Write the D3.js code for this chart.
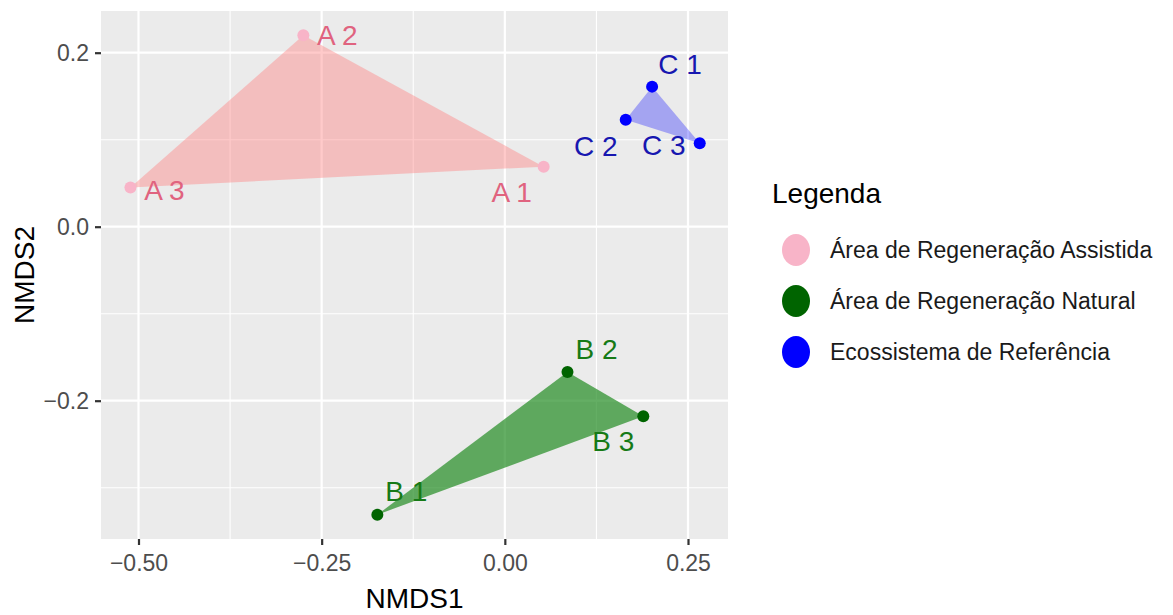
<!DOCTYPE html>
<html>
<head>
<meta charset="utf-8">
<script src="https://cdn.jsdelivr.net/npm/d3@7"></script>
<style>
  html, body { margin: 0; padding: 0; background: #fff; }
  svg text { font-family: "Liberation Sans", Arial, sans-serif; }
</style>
</head>
<body>
<svg id="chart" width="1173" height="615"></svg>
<script>
// ---- data ----
const groups = ["Área de Regeneração Assistida", "Área de Regeneração Natural", "Ecossistema de Referência"];
const sampleNames = ["A 1", "A 2", "A 3", "B 1", "B 2", "B 3", "C 1", "C 2", "C 3"];
const sampleGroup = [0, 0, 0, 1, 1, 1, 2, 2, 2];
const nmds1 = [0.053, -0.275, -0.511, -0.174, 0.0855, 0.189, 0.201, 0.165, 0.266];
const nmds2 = [0.069, 0.220, 0.045, -0.331, -0.167, -0.218, 0.161, 0.123, 0.096];
const xTicks = [-0.50, -0.25, 0.00, 0.25];
const yTicks = [-0.2, 0.0, 0.2];
const xMinor = [-0.375, -0.125, 0.125];
const yMinor = [-0.3, -0.1, 0.1];

// ---- styles ----
const pointColor = ["#F8B4C8", "#006400", "#0000FF"];
const labelColor = ["#E0637F", "#167A16", "#1717B0"];
const hullFill = ["#FF8080", "#228B22", "#0000FF"];
const hullOpacity = [0.42, 0.7, 0.3];
// label offsets in pixels (dx, dy) per sample
const labelOffset = [[-32, 26], [34, 0], [34, 3], [29, -23], [29, -23], [-30, 25], [28, -22], [-30, 27], [-36, 2]];

const svg = d3.select("#chart");
const P = { left: 101, right: 728, top: 11, bottom: 539 };

const x = d3.scaleLinear().domain([-0.5, 0.25]).range([138.5, 688]);
const y = d3.scaleLinear().domain([-0.2, 0.2]).range([400.7, 52.7]);

// panel
svg.append("rect").attr("x", P.left).attr("y", P.top)
  .attr("width", P.right - P.left).attr("height", P.bottom - P.top)
  .attr("fill", "#EBEBEB");

const grid = svg.append("g");
xMinor.forEach(v => grid.append("line").attr("x1", x(v)).attr("x2", x(v)).attr("y1", P.top).attr("y2", P.bottom)
  .attr("stroke", "#fff").attr("stroke-width", 1.1));
yMinor.forEach(v => grid.append("line").attr("y1", y(v)).attr("y2", y(v)).attr("x1", P.left).attr("x2", P.right)
  .attr("stroke", "#fff").attr("stroke-width", 1.1));
xTicks.forEach(v => grid.append("line").attr("x1", x(v)).attr("x2", x(v)).attr("y1", P.top).attr("y2", P.bottom)
  .attr("stroke", "#fff").attr("stroke-width", 2.2));
yTicks.forEach(v => grid.append("line").attr("y1", y(v)).attr("y2", y(v)).attr("x1", P.left).attr("x2", P.right)
  .attr("stroke", "#fff").attr("stroke-width", 2.2));

// axes
const xAxis = d3.axisBottom(x).tickValues(xTicks).tickFormat(d3.format(".2f")).tickSize(6).tickPadding(10);
const gx = svg.append("g").attr("transform", `translate(0,${P.bottom})`).call(xAxis);
gx.select(".domain").remove();
gx.selectAll("line").attr("stroke", "#333").attr("stroke-width", 2.2);
gx.selectAll("text").attr("fill", "#4D4D4D").attr("font-size", 23)
  .text(d => d3.format(".2f")(d).replace("-", "\u2212"));

const yAxis = d3.axisLeft(y).tickValues(yTicks).tickFormat(d3.format(".1f")).tickSize(6).tickPadding(6);
const gy = svg.append("g").attr("transform", `translate(${P.left},0)`).call(yAxis);
gy.select(".domain").remove();
gy.selectAll("line").attr("stroke", "#333").attr("stroke-width", 2.2);
gy.selectAll("text").attr("fill", "#4D4D4D").attr("font-size", 23)
  .text(d => d3.format(".1f")(d).replace("-", "\u2212"));

// axis titles
svg.append("text").attr("x", (P.left + P.right) / 2).attr("y", 608)
  .attr("text-anchor", "middle").attr("font-size", 28).attr("fill", "#000").text("NMDS1");
svg.append("text").attr("transform", `translate(34,${(P.top + P.bottom) / 2}) rotate(-90)`)
  .attr("text-anchor", "middle").attr("font-size", 28).attr("fill", "#000").text("NMDS2");

// data rows
const rows = sampleNames.map((n, i) => ({ name: n, g: sampleGroup[i], x: nmds1[i], y: nmds2[i], i }));

// hulls
const plot = svg.append("g");
groups.forEach((g, gi) => {
  const pts = rows.filter(r => r.g === gi).map(r => [x(r.x), y(r.y)]);
  const hull = d3.polygonHull(pts);
  plot.append("path").attr("d", "M" + hull.join("L") + "Z")
    .attr("fill", hullFill[gi]).attr("fill-opacity", hullOpacity[gi]);
});

// points
plot.selectAll("circle.pt").data(rows).join("circle").attr("class", "pt")
  .attr("cx", d => x(d.x)).attr("cy", d => y(d.y)).attr("r", 6)
  .attr("fill", d => pointColor[d.g]);

// labels
plot.selectAll("text.lbl").data(rows).join("text").attr("class", "lbl")
  .attr("x", d => x(d.x) + labelOffset[d.i][0])
  .attr("y", d => y(d.y) + labelOffset[d.i][1])
  .attr("dy", "0.35em").attr("text-anchor", "middle")
  .attr("font-size", 28).attr("fill", d => labelColor[d.g]).text(d => d.name);

// legend
const leg = svg.append("g");
leg.append("text").attr("x", 772).attr("y", 193).attr("dy", "0.35em")
  .attr("font-size", 28).attr("fill", "#000").text("Legenda");
const legY = d3.scalePoint().domain(groups).range([250, 352]);
groups.forEach((g, gi) => {
  leg.append("ellipse").attr("cx", 796).attr("cy", legY(g)).attr("rx", 14).attr("ry", 16)
    .attr("fill", pointColor[gi]);
  leg.append("text").attr("x", 830).attr("y", legY(g)).attr("dy", "0.35em")
    .attr("font-size", 23).attr("fill", "#1a1a1a").text(g);
});
</script>
</body>
</html>
